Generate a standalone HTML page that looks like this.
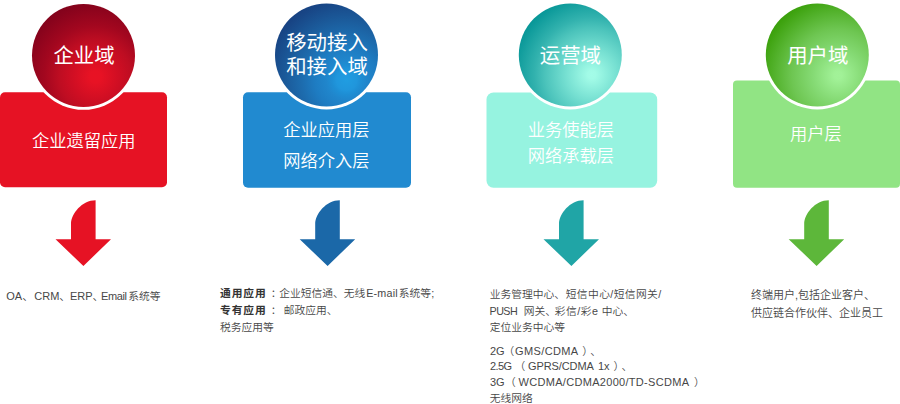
<!DOCTYPE html>
<html lang="zh-CN">
<head>
<meta charset="utf-8">
<title>域架构</title>
<style>
  html, body { margin: 0; padding: 0; background: #ffffff; }
  body { width: 900px; height: 404px; overflow: hidden; position: relative;
         font-family: "Liberation Sans", "Noto Sans CJK SC", sans-serif; }
  svg { position: absolute; left: 0; top: 0; display: block; }
  .t { font-family: "Liberation Sans", "Noto Sans CJK SC", sans-serif; }
  .title { font-size: 20.4px; font-weight: 400; fill: #ffffff; text-anchor: middle; }
  .layer { font-size: 17.25px; font-weight: 350; fill: #ffffff; text-anchor: middle; }
  .small { font-size: 11px; font-weight: 350; fill: #474747; }
  .c { font-size: 10.75px; }
  .b { font-weight: 700; fill: #333333; }
</style>
</head>
<body>
<svg width="900" height="404" viewBox="0 0 900 404">
  <defs>
    <radialGradient id="g1" gradientUnits="userSpaceOnUse" cx="95.4" cy="76.6" r="80">
      <stop offset="0.000" stop-color="#e81224"/>
      <stop offset="0.075" stop-color="#e71224"/>
      <stop offset="0.309" stop-color="#ce0e23"/>
      <stop offset="0.450" stop-color="#be0d22"/>
      <stop offset="0.636" stop-color="#a3071f"/>
      <stop offset="0.887" stop-color="#88031c"/>
      <stop offset="1.000" stop-color="#7e021b"/>
    </radialGradient>
    <radialGradient id="g2" gradientUnits="userSpaceOnUse" cx="346.5" cy="80" r="85">
      <stop offset="0.000" stop-color="#209de1"/>
      <stop offset="0.121" stop-color="#2096dc"/>
      <stop offset="0.169" stop-color="#1e8ed4"/>
      <stop offset="0.235" stop-color="#2086cc"/>
      <stop offset="0.372" stop-color="#1e7cc2"/>
      <stop offset="0.528" stop-color="#1d6cae"/>
      <stop offset="0.709" stop-color="#1b5b9b"/>
      <stop offset="0.928" stop-color="#184686"/>
      <stop offset="1.000" stop-color="#174080"/>
    </radialGradient>
    <radialGradient id="g3" gradientUnits="userSpaceOnUse" cx="591.7" cy="74.7" r="82">
      <stop offset="0.000" stop-color="#a3fce8"/>
      <stop offset="0.049" stop-color="#a2fbe7"/>
      <stop offset="0.321" stop-color="#75dfd1"/>
      <stop offset="0.571" stop-color="#4bc3bb"/>
      <stop offset="0.698" stop-color="#32b2ae"/>
      <stop offset="0.927" stop-color="#0e9b9b"/>
      <stop offset="1.000" stop-color="#059596"/>
    </radialGradient>
    <radialGradient id="g4" gradientUnits="userSpaceOnUse" cx="838.1" cy="75.3" r="82">
      <stop offset="0.000" stop-color="#a2f298"/>
      <stop offset="0.049" stop-color="#a1f197"/>
      <stop offset="0.310" stop-color="#85da74"/>
      <stop offset="0.563" stop-color="#6ec652"/>
      <stop offset="0.926" stop-color="#40a412"/>
      <stop offset="1.000" stop-color="#389e08"/>
    </radialGradient>
    <path id="arrow" d="M95.6,200.3 V239.2 H111 L83.4,266 L55.5,239.2 H71 V224 C71,214 82,200.3 95.6,200.3 Z"/>
  </defs>

  <!-- boxes -->
  <rect x="0" y="92.3" width="167" height="95" rx="5" ry="5" fill="#e61224"/>
  <rect x="243" y="92.3" width="168" height="95.4" rx="5" ry="5" fill="#218ad0"/>
  <rect x="486.5" y="92.4" width="170.7" height="95.3" rx="7" ry="7" fill="#96f3e0"/>
  <rect x="733" y="80.4" width="167" height="107.3" rx="4" ry="4" fill="#91e484"/>

  <!-- circles with white ring -->
  <circle cx="83.5" cy="55.4" r="54.4" fill="#ffffff"/>
  <circle cx="83.5" cy="55.4" r="51.5" fill="url(#g1)"/>
  <circle cx="326.5" cy="55" r="54.5" fill="#ffffff"/>
  <circle cx="326.5" cy="55" r="51.5" fill="url(#g2)"/>
  <circle cx="570.3" cy="55" r="54.5" fill="#ffffff"/>
  <circle cx="570.3" cy="55" r="51.5" fill="url(#g3)"/>
  <circle cx="817.3" cy="55" r="54.5" fill="#ffffff"/>
  <circle cx="817.3" cy="55" r="51.5" fill="url(#g4)"/>

  <!-- arrows -->
  <use href="#arrow" fill="#e61224"/>
  <use href="#arrow" x="244.2" fill="#1b68a8"/>
  <use href="#arrow" x="488" fill="#20a5a6"/>
  <use href="#arrow" x="733.2" fill="#5db73a"/>

  <!-- circle titles -->
  <text class="t title" x="84" y="62.5">企业域</text>
  <text class="t title" x="327" y="49.6">移动接入</text>
  <text class="t title" x="327" y="74.2">和接入域</text>
  <text class="t title" x="570.4" y="62.8">运营域</text>
  <text class="t title" x="817.8" y="62.7">用户域</text>

  <!-- box labels -->
  <text class="t layer" x="83.8" y="146.6">企业遗留应用</text>
  <text class="t layer" x="326.4" y="135.8">企业应用层</text>
  <text class="t layer" x="326.4" y="167">网络介入层</text>
  <text class="t layer" x="570.9" y="135.8">业务使能层</text>
  <text class="t layer" x="570.9" y="161.8">网络承载层</text>
  <text class="t layer" x="816" y="140.2">用户层</text>

  <!-- descriptions -->
  <text class="t small" y="300"><tspan x="6.3">OA、</tspan><tspan x="34.3">CRM、</tspan><tspan x="69.9">ERP、</tspan><tspan x="100.9" letter-spacing="-0.35">Email</tspan><tspan x="128.2" class="c">系统等</tspan></text>

  <text class="t small c" y="297"><tspan x="220" class="b" letter-spacing="0.9">通用应用</tspan><tspan x="270.8">：</tspan><tspan x="279.2">企业短信通、</tspan><tspan x="343.7">无线</tspan><tspan x="366.2" letter-spacing="0.2">E-mail</tspan><tspan x="398.7">系统等</tspan><tspan x="431.2">;</tspan></text>
  <text class="t small c" y="313.7"><tspan x="220" class="b" letter-spacing="0.9">专有应用</tspan><tspan x="270.8">：</tspan><tspan x="283.7">邮政应用、</tspan></text>
  <text class="t small c" x="220" y="330.6">税务应用等</text>

  <text class="t small c" y="298.3"><tspan x="489.8">业务管理中心、</tspan><tspan x="565.7" letter-spacing="0.4">短信中心/短信网关/</tspan></text>
  <text class="t small c" y="314.6"><tspan x="489.6" letter-spacing="-0.6">PUSH</tspan><tspan x="523.7">网关、</tspan><tspan x="554.7" letter-spacing="0.5">彩信/彩e</tspan><tspan x="601.7">中心、</tspan></text>
  <text class="t small c" x="489.8" y="330.6">定位业务中心等</text>
  <text class="t small" y="354.5"><tspan x="490">2G</tspan><tspan x="503.5" class="c">（</tspan><tspan x="515" letter-spacing="0.38">GMS/CDMA</tspan><tspan x="582.2" class="c">）</tspan><tspan x="590.2" class="c">、</tspan></text>
  <text class="t small" y="370"><tspan x="490" letter-spacing="-0.6">2.5G</tspan><tspan x="514.5" class="c">（</tspan><tspan x="528" letter-spacing="-0.1">GPRS/CDMA</tspan><tspan x="597.9">1x</tspan><tspan x="613.5" class="c">）</tspan><tspan x="621.6" class="c">、</tspan></text>
  <text class="t small" y="386.2"><tspan x="490">3G</tspan><tspan x="505" class="c">（</tspan><tspan x="518.6" letter-spacing="0.3">WCDMA/CDMA2000/TD-SCDMA</tspan><tspan x="694" class="c">）</tspan></text>
  <text class="t small c" x="489.8" y="402.3">无线网络</text>

  <text class="t small" x="751" y="299">终端用户,包括企业客户、</text>
  <text class="t small" x="751" y="316.5">供应链合作伙伴、企业员工</text>
</svg>
</body>
</html>
